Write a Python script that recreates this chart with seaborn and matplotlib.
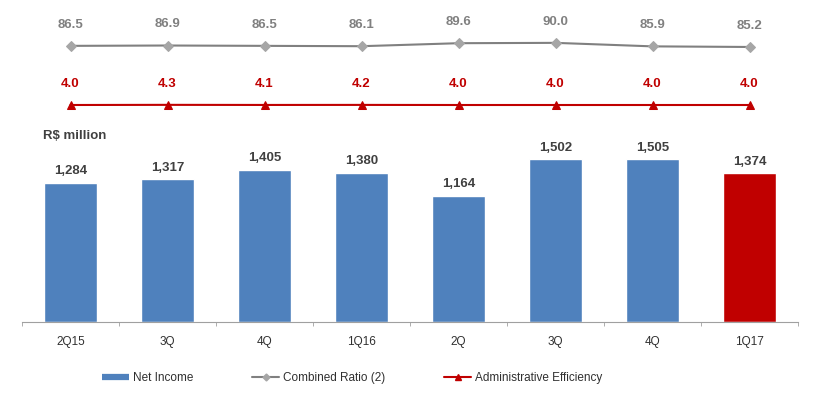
import matplotlib.pyplot as plt
import pandas as pd
import seaborn as sns
from matplotlib.lines import Line2D

# Data
periods = ['2Q15', '3Q15', '4Q15', '1Q16', '2Q16', '3Q16', '4Q16', '1Q17']
tick_labels = ['2Q15', '3Q', '4Q', '1Q16', '2Q', '3Q', '4Q', '1Q17']
net_income = [1284, 1317, 1405, 1380, 1164, 1502, 1505, 1374]
combined_ratio = [86.5, 86.9, 86.5, 86.1, 89.6, 90.0, 85.9, 85.2]
admin_efficiency = [4.0, 4.3, 4.1, 4.2, 4.0, 4.0, 4.0, 4.0]

blue = '#4F81BD'
red = '#C00000'
gray_line = '#808080'
gray_marker = '#A6A6A6'
dark = '#404040'

df = pd.DataFrame({'period': periods, 'pos': range(len(periods)),
                   'net_income': net_income,
                   'combined_ratio': combined_ratio,
                   'admin_efficiency': admin_efficiency})

sns.set_style('white')
plt.rcParams['font.family'] = ['Liberation Sans', 'DejaVu Sans']

fig = plt.figure(figsize=(8.18, 4.0), dpi=100)
W, H = 818, 400
left, right = 22 / W, 776 / W

# Bars
ax = fig.add_axes([left, 1 - 322 / H, right, 184 / H])
colors = [blue] * (len(periods) - 1) + [red]
sns.barplot(data=df, x='period', y='net_income', hue='period', palette=colors,
            legend=False, width=0.55, ax=ax, saturation=1)
ax.set_xlim(-0.5, len(periods) - 0.5)
ax.set_ylim(0, 1700)
for i, v in enumerate(net_income):
    ax.annotate(f'{v:,}', (i, v), xytext=(0, 4), textcoords='offset points',
                ha='center', va='bottom', fontsize=9.5, fontweight='bold', color=dark)
for s in ['top', 'right', 'left']:
    ax.spines[s].set_visible(False)
ax.spines['bottom'].set_color('#A0A0A0')
ax.set_yticks([])
ax.set_xlabel('')
ax.set_ylabel('')
ax.set_xticks(range(len(periods)))
ax.set_xticklabels(tick_labels, fontsize=8.5, color='#303030')
ax.set_xticks([i - 0.5 for i in range(len(periods) + 1)], minor=True)
ax.tick_params(axis='x', which='major', length=0, pad=10)
ax.tick_params(axis='x', which='minor', length=3, color='#A0A0A0', direction='out', bottom=True)
ax.text(43 / W, 1 - 136 / H, 'R$ million', transform=fig.transFigure, fontsize=9.5,
        fontweight='bold', color=dark, va='center', ha='left')

# Combined ratio line
ax2 = fig.add_axes([left, 1 - 60 / H, right, 30 / H])
sns.lineplot(data=df, x='pos', y='combined_ratio', color=gray_line, marker='D',
             markersize=5, markerfacecolor=gray_marker, markeredgecolor=gray_marker,
             linewidth=1.5, ax=ax2)
ax2.set_xlim(-0.5, len(periods) - 0.5)
ax2.set_ylim(70, 105)
for i, v in enumerate(combined_ratio):
    ax2.annotate(f'{v:.1f}', (i, v), xytext=(0, 11), textcoords='offset points',
                 ha='center', va='bottom', fontsize=9.5, fontweight='bold', color=gray_line)
ax2.axis('off')

# Administrative efficiency line
ax3 = fig.add_axes([left, 1 - 120 / H, right, 30 / H])
sns.lineplot(data=df, x='pos', y='admin_efficiency', color=red, marker='^',
             markersize=6, markerfacecolor=red, markeredgecolor=red,
             linewidth=1.5, ax=ax3)
ax3.set_xlim(-0.5, len(periods) - 0.5)
ax3.set_ylim(-26, 34)
for i, v in enumerate(admin_efficiency):
    ax3.annotate(f'{v:.1f}', (i, v), xytext=(0, 11), textcoords='offset points',
                 ha='center', va='bottom', fontsize=9.5, fontweight='bold', color=red)
ax3.axis('off')

# Legend
handles = [
    Line2D([], [], color=blue, linewidth=4.5, solid_capstyle='butt'),
    Line2D([], [], color=gray_line, marker='D', markersize=3.5,
           markerfacecolor=gray_marker, markeredgecolor=gray_marker, linewidth=1.5),
    Line2D([], [], color=red, marker='^', markersize=4.5, linewidth=1.5),
]
labels = ['Net Income', 'Combined Ratio (2)', 'Administrative Efficiency']
fig.legend(handles, labels, loc='center', bbox_to_anchor=(352 / W, 1 - 378 / H),
           ncol=3, frameon=False, fontsize=8.5, handlelength=2.3, handletextpad=0.3,
           columnspacing=5.0, labelcolor='#303030')

fig.savefig('out.png', dpi=100)
